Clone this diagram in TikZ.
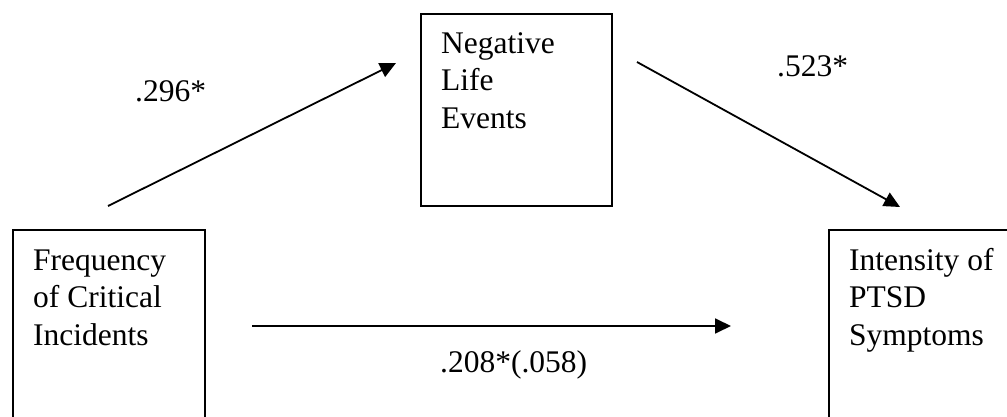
\documentclass[tikz,border=0pt]{standalone}
\usepackage{fontspec}
\setmainfont{Liberation Serif}
\usetikzlibrary{arrows.meta}
\begin{document}
\begin{tikzpicture}[x=1pt,y=-1pt,
  boxstyle/.style={draw=black,line width=2pt,fill=none},
  boxtext/.style={anchor=north west,inner sep=0pt,align=left,font=\fontsize{31.5}{37.5}\selectfont},
  lbl/.style={anchor=base west,inner sep=0pt,font=\fontsize{31.5}{37.5}\selectfont},
  arr/.style={line width=1.8pt,-{Triangle[length=16pt,width=15pt]}}]
\clip (0,0) rectangle (1007,417);
\fill[white] (0,0) rectangle (1007,417);
% boxes
\draw[boxstyle] (13,230) rectangle (205,440);
\node[inner sep=0pt] (b1) at (109,335) {};
\draw[boxstyle] (421,14) rectangle (612,206);
\node[inner sep=0pt] (b2) at (516,110) {};
\draw[boxstyle] (829,230) rectangle (1040,440);
\node[inner sep=0pt] (b3) at (935,335) {};
% box texts
\node[boxtext] (t1) at (33,242) {\rule{0pt}{28pt}Frequency\\of Critical\\Incidents};
\node[boxtext] (t2) at (441,25) {\rule{0pt}{28pt}Negative\\Life\\Events};
\node[boxtext] (t3) at (849,242) {\rule{0pt}{28pt}Intensity of\\PTSD\\Symptoms};
% arrows
\coordinate (a1s) at (108,206);
\coordinate (a1e) at (396,63);
\coordinate (a2s) at (637,62);
\coordinate (a2e) at (900,207);
\coordinate (a3s) at (252,326);
\coordinate (a3e) at (731,326);
\draw[arr] (a1s) -- (a1e);
\draw[arr] (a2s) -- (a2e);
\draw[arr] (a3s) -- (a3e);
% labels
\node[lbl] (l1) at (135,102) {.296*};
\node[lbl] (l2) at (777,77) {.523*};
\node[lbl] (l3) at (440,372) {.208*(.058)};
\end{tikzpicture}
\end{document}
